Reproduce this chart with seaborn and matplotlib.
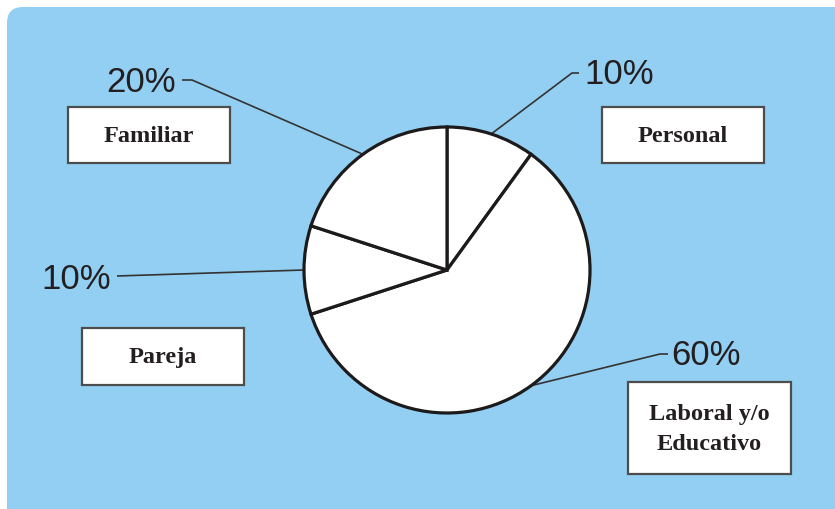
import matplotlib
matplotlib.use("Agg")
import matplotlib.pyplot as plt
import seaborn as sns
import numpy as np
from matplotlib.patches import FancyBboxPatch, Rectangle

# ---- data ----
categories = ["Personal", "Laboral y/o\nEducativo", "Pareja", "Familiar"]
values = [10, 60, 10, 20]
pct_labels = ["10%", "60%", "10%", "20%"]

sns.set_theme(style="white")
plt.rcParams["font.family"] = ["Liberation Sans", "DejaVu Sans"]

W, H = 835, 509
fig = plt.figure(figsize=(W / 100, H / 100), dpi=100)
fig.patch.set_facecolor("white")
ax = fig.add_axes([0, 0, 1, 1])


def Y(y):
    return H - y


# background panel
bg = FancyBboxPatch((7, -40), W + 40 - 7, Y(7) + 40,
                    boxstyle="round,pad=0,rounding_size=16",
                    fc="#93CFF2", ec="none", zorder=0)
ax.add_patch(bg)

cx, cy, r = 447, Y(270), 143
wedges, _ = ax.pie(values, startangle=90, counterclock=False,
                   center=(cx, cy), radius=r, frame=False,
                   wedgeprops=dict(facecolor="white", edgecolor="#1c1a1a",
                                   linewidth=2.3, zorder=2))

# layout: percentage text position, leader path (image px), label box
layout = [
    dict(tx=584, ty=84, ha="left", path=[(572, 73), (579, 73)], box=(602, 107, 764, 163)),
    dict(tx=671, ty=365, ha="left", path=[(660, 354), (668, 354)], box=(628, 382, 791, 474)),
    dict(tx=111, ty=289, ha="right", path=[(117, 276)], box=(82, 328, 244, 385)),
    dict(tx=176, ty=92, ha="right", path=[(192, 80), (182, 80)], box=(68, 107, 230, 163)),
]

txt_col = "#231f20"
for w, cat, pct, lay in zip(wedges, categories, pct_labels, layout):
    mid = np.deg2rad((w.theta1 + w.theta2) / 2)
    xs = [cx + r * np.cos(mid)] + [p[0] for p in lay["path"]]
    ys = [cy + r * np.sin(mid)] + [Y(p[1]) for p in lay["path"]]
    ax.plot(xs, ys, color="#333333", lw=1.2, zorder=1, solid_capstyle="butt")
    ax.text(lay["tx"], Y(lay["ty"]), pct, ha=lay["ha"], va="baseline",
            fontsize=25, color=txt_col, family=["Liberation Sans", "DejaVu Sans"])
    x0, y0, x1, y1 = lay["box"]
    ax.add_patch(Rectangle((x0, Y(y1)), x1 - x0, y1 - y0, fc="white",
                           ec="#4d4d4d", lw=1.6, zorder=3))
    lines = cat.split("\n")
    n = len(lines)
    yc = (y0 + y1) / 2
    for i, ln in enumerate(lines):
        yb = yc + (i - (n - 1) / 2) * 30 + 7
        ax.text((x0 + x1) / 2, Y(yb), ln, ha="center", va="baseline",
                fontsize=17.5, fontweight="bold", color=txt_col,
                family=["Liberation Serif", "DejaVu Serif"], zorder=4)

ax.set_xlim(0, W)
ax.set_ylim(0, H)
ax.set_aspect("auto")
ax.axis("off")

fig.savefig("out.png", dpi=100, facecolor="white")
